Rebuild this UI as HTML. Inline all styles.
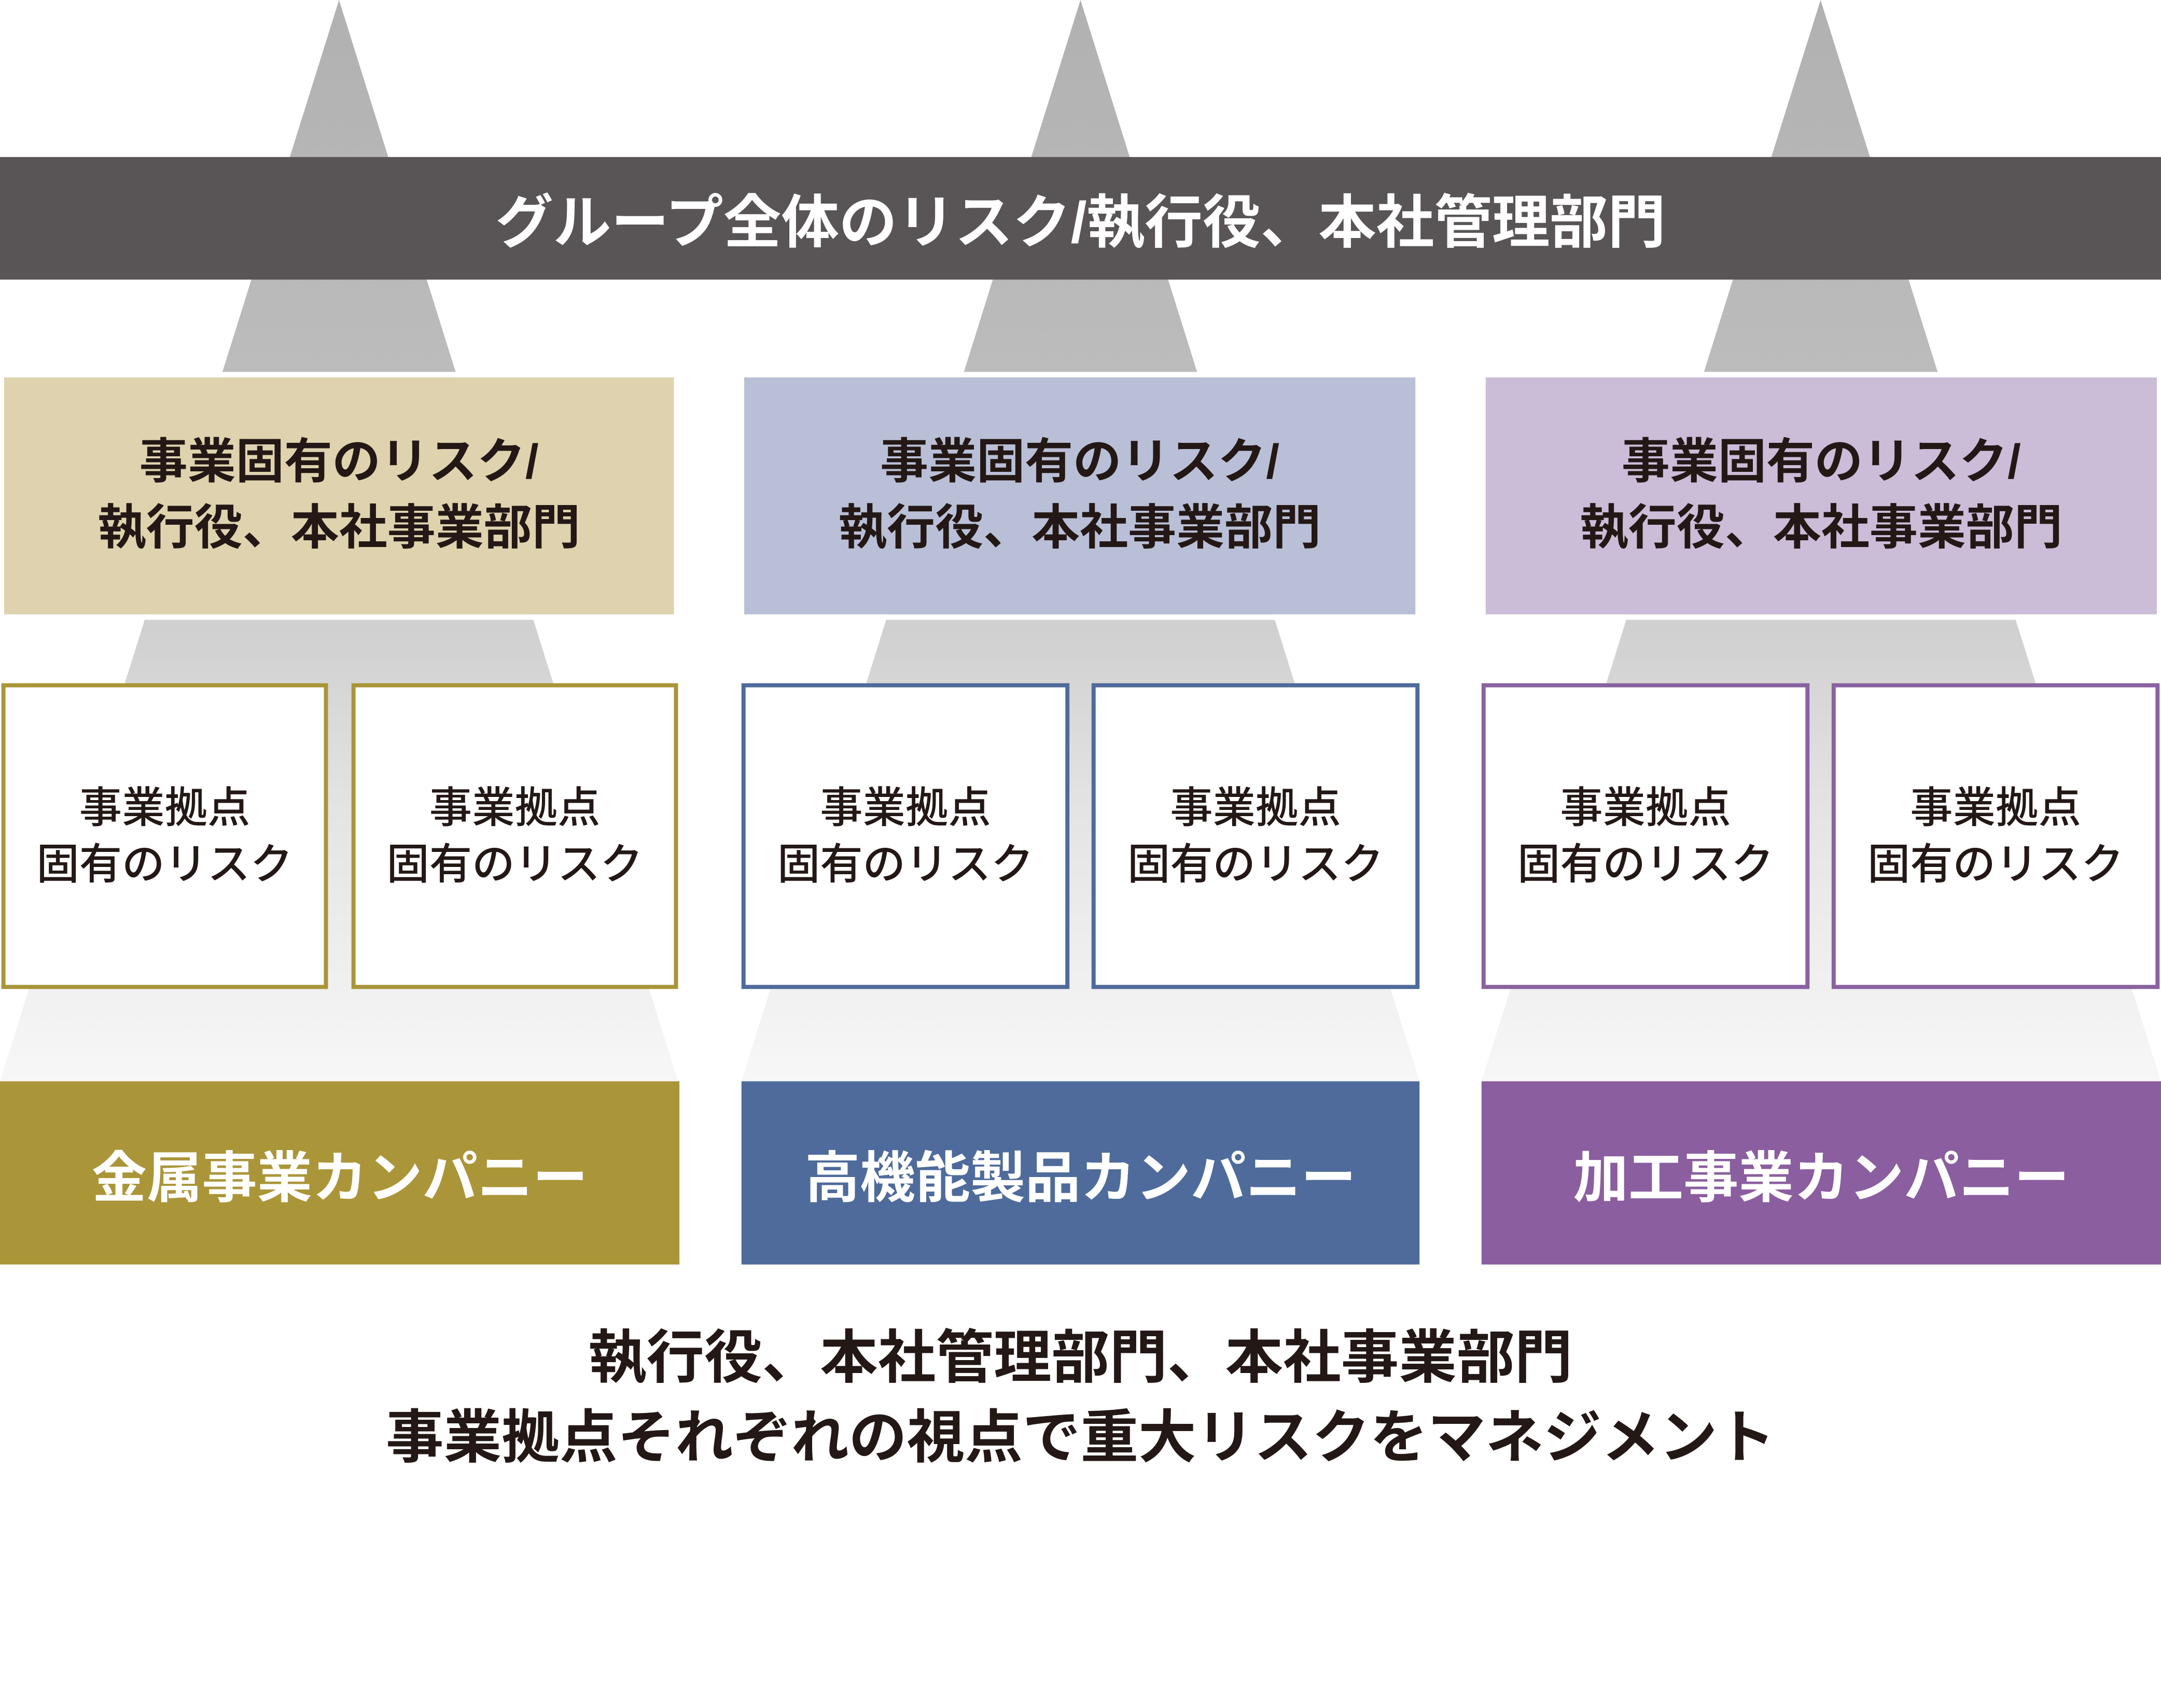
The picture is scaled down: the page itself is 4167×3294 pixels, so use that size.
<!DOCTYPE html>
<html><head><meta charset="utf-8"><style>
html,body{margin:0;padding:0;background:#fff;width:4167px;height:3294px;overflow:hidden}
#s{position:absolute;left:0;top:0;width:1568px;height:1240px;transform:scale(2.6575,2.6565);transform-origin:0 0;font-family:"Liberation Sans","Noto Sans CJK JP",sans-serif}
.a{position:absolute;box-sizing:border-box;display:flex;align-items:center;justify-content:center;text-align:center}
.t{font-weight:bold;color:#fff}
.m{font-weight:bold;color:#231815;font-size:35px;line-height:48px}
.b{background:#fff;color:#231815;font-size:31px;line-height:41px;border:3px solid;font-weight:500}
.c{font-weight:bold;color:#fff;font-size:40px}
</style></head><body><div id="s">
<svg width="1568" height="1240" style="position:absolute;left:0;top:0">
<defs><linearGradient id="g" x1="0" y1="0" x2="0" y2="785" gradientUnits="userSpaceOnUse">
<stop offset="0" stop-color="#b1b1b1"/><stop offset="0.35" stop-color="#bcbcbc"/><stop offset="0.6" stop-color="#d2d2d2"/><stop offset="0.75" stop-color="#e4e4e4"/><stop offset="1" stop-color="#f7f7f7"/></linearGradient></defs>
<polygon points="246,0 0,785 492,785" fill="url(#g)"/>
<polygon points="784,0 538,785 1030,785" fill="url(#g)"/>
<polygon points="1321,0 1075,785 1568,785" fill="url(#g)"/>
<rect x="0" y="270" width="1568" height="4" fill="#fff"/>
<rect x="0" y="446" width="1568" height="4" fill="#fff"/>
</svg>
<div class="a t" style="left:0;top:114px;width:1568px;height:89px;background:#595556;font-size:42px">グループ全体のリスク/執行役、本社管理部門</div>
<div class="a m" style="left:3px;top:274px;width:486px;height:172px;background:#ded3ae">事業固有のリスク/<br>執行役、本社事業部門</div>
<div class="a m" style="left:540px;top:274px;width:487px;height:172px;background:#b9bfd6">事業固有のリスク/<br>執行役、本社事業部門</div>
<div class="a m" style="left:1078px;top:274px;width:487px;height:172px;background:#cbbdd8">事業固有のリスク/<br>執行役、本社事業部門</div>
<div class="a b" style="left:1px;top:496px;width:237px;height:222px;border-color:#a9953a">事業拠点<br>固有のリスク</div>
<div class="a b" style="left:255px;top:496px;width:237px;height:222px;border-color:#a9953a">事業拠点<br>固有のリスク</div>
<div class="a b" style="left:538px;top:496px;width:238px;height:222px;border-color:#4f6b9b">事業拠点<br>固有のリスク</div>
<div class="a b" style="left:792px;top:496px;width:238px;height:222px;border-color:#4f6b9b">事業拠点<br>固有のリスク</div>
<div class="a b" style="left:1075px;top:496px;width:238px;height:222px;border-color:#8a62a0">事業拠点<br>固有のリスク</div>
<div class="a b" style="left:1329px;top:496px;width:238px;height:222px;border-color:#8a62a0">事業拠点<br>固有のリスク</div>
<div class="a c" style="left:0;top:785px;width:493px;height:133px;background:#ab9539">金属事業カンパニー</div>
<div class="a c" style="left:538px;top:785px;width:492px;height:133px;background:#4e6b9b">高機能製品カンパニー</div>
<div class="a c" style="left:1075px;top:785px;width:493px;height:133px;background:#8a5e9f">加工事業カンパニー</div>
<div class="a" style="left:0;top:955px;width:1568px;height:120px;font-weight:bold;color:#231815;font-size:42px;line-height:58px">執行役、本社管理部門、本社事業部門<br>事業拠点それぞれの視点で重大リスクをマネジメント</div>
</div></body></html>
